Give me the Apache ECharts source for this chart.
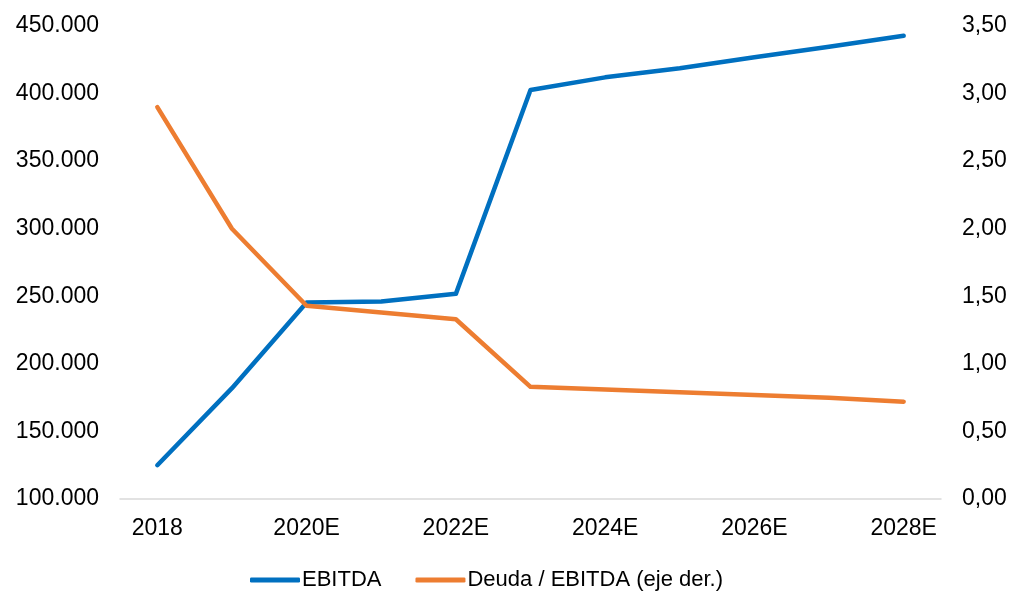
<!DOCTYPE html>
<html>
<head>
<meta charset="utf-8">
<script src="https://cdn.jsdelivr.net/npm/echarts@6/dist/echarts.min.js"></script>
<style>
  html, body { margin: 0; padding: 0; background: #fff; }
  #chart { width: 1011px; height: 591px; }
</style>
</head>
<body>
<div id="chart"></div>
<script>
// Years (E = estimate)
const categories = ['2018', '2019', '2020E', '2021E', '2022E', '2023E', '2024E', '2025E', '2026E', '2027E', '2028E'];
// EBITDA (left axis)
const ebitda = [125000, 182000, 245400, 246100, 251800, 402700, 412000, 418700, 426900, 434700, 442800];
// Deuda / EBITDA ratio (right axis)
const deudaEbitda = [2.90, 2.00, 1.43, 1.38, 1.33, 0.83, 0.81, 0.79, 0.77, 0.75, 0.72];
// Series names
const seriesNames = ['EBITDA', 'Deuda / EBITDA (eje der.)'];

const BLUE = '#0070C0';
const ORANGE = '#ED7D31';
const FONT = '"Liberation Sans", Arial, sans-serif';

function thousands(v) {
  return String(Math.round(v)).replace(/\B(?=(\d{3})+(?!\d))/g, '.');
}

const chart = echarts.init(document.getElementById('chart'), null, { renderer: 'canvas' });
chart.setOption({
  animation: false,
  textStyle: { fontFamily: FONT },
  grid: { left: 120, right: 70, top: 26, bottom: 92, containLabel: false },
  legend: {
    top: 564,
    left: 245,
    itemWidth: 50,
    itemHeight: 5,
    itemGap: 34,
    icon: 'roundRect',
    textStyle: { fontFamily: FONT, fontSize: 22, color: '#000', padding: [0, 0, 0, -3] },
    data: seriesNames
  },
  xAxis: {
    type: 'category',
    data: categories,
    boundaryGap: true,
    axisLine: { show: true, lineStyle: { color: '#d9d9d9', width: 1.5 } },
    axisTick: { show: false },
    axisLabel: { interval: 1, margin: 18, fontFamily: FONT, fontSize: 23, color: '#000' },
    splitLine: { show: false }
  },
  yAxis: [
    {
      type: 'value',
      min: 100000,
      max: 450000,
      interval: 50000,
      axisLine: { show: false },
      axisTick: { show: false },
      splitLine: { show: false },
      axisLabel: { margin: 21, fontFamily: FONT, fontSize: 23, color: '#000', formatter: thousands }
    },
    {
      type: 'value',
      min: 0,
      max: 3.5,
      interval: 0.5,
      axisLine: { show: false },
      axisTick: { show: false },
      splitLine: { show: false },
      axisLabel: {
        margin: 21, fontFamily: FONT, fontSize: 23, color: '#000',
        formatter: v => v.toFixed(2).replace('.', ',')
      }
    }
  ],
  series: [
    {
      name: seriesNames[0],
      type: 'line',
      yAxisIndex: 0,
      data: ebitda,
      symbol: 'none',
      itemStyle: { color: BLUE },
      lineStyle: { color: BLUE, width: 4.5, cap: 'round', join: 'round' }
    },
    {
      name: seriesNames[1],
      type: 'line',
      yAxisIndex: 1,
      data: deudaEbitda,
      symbol: 'none',
      itemStyle: { color: ORANGE },
      lineStyle: { color: ORANGE, width: 4.5, cap: 'round', join: 'round' }
    }
  ]
});
</script>
</body>
</html>
